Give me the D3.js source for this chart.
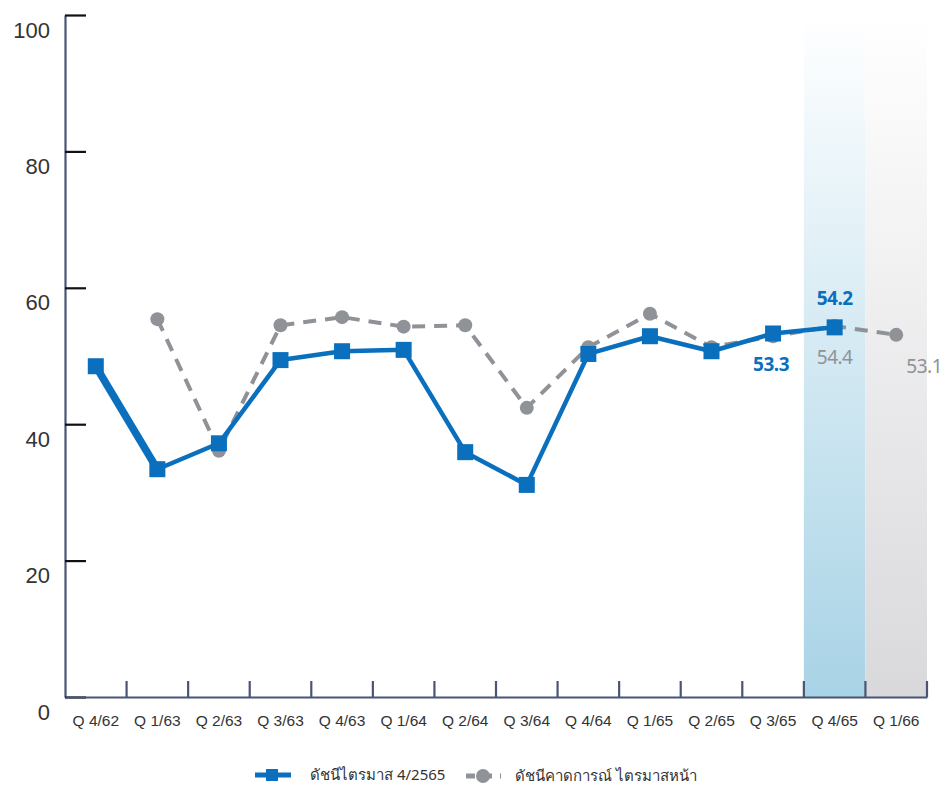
<!DOCTYPE html>
<html>
<head>
<meta charset="utf-8">
<script src="https://cdn.jsdelivr.net/npm/d3@7"></script>
<style>
  body { margin: 0; background: #fff; }
  svg { display: block; font-family: "Noto Sans", "Open Sans", sans-serif; }
</style>
</head>
<body>
<svg id="chart" width="943" height="788"></svg>
<script>
const categories = ["Q 4/62","Q 1/63","Q 2/63","Q 3/63","Q 4/63","Q 1/64","Q 2/64","Q 3/64","Q 4/64","Q 1/65","Q 2/65","Q 3/65","Q 4/65","Q 1/66"];
const actualValues = [48.5, 33.4, 37.2, 49.4, 50.7, 50.9, 35.9, 31.1, 50.3, 52.9, 50.7, 53.3, 54.2, null];
const expectedValues = [null, 55.4, 36.1, 54.5, 55.7, 54.3, 54.5, 42.4, 51.3, 56.2, 51.3, 52.9, 54.4, 53.1];
const yTicks = [0, 20, 40, 60, 80, 100];
const seriesNames = ["ดัชนีไตรมาส 4/2565", "ดัชนีคาดการณ์ ไตรมาสหน้า"];
const labelAt = [
  {series: 0, cat: "Q 3/65", text: "53.3", pos: "below"},
  {series: 0, cat: "Q 4/65", text: "54.2", pos: "above"},
  {series: 1, cat: "Q 4/65", text: "54.4", pos: "below"},
  {series: 1, cat: "Q 1/66", text: "53.1", pos: "belowRight"}
];

(function () {
const blue = "#0a6fbd", gray = "#8f9297", axisCol = "#4a5474";
const svg = d3.select("#chart");
const mLeft = 65, mRight = 927, mTop = 15, mBottom = 697;

const x = d3.scaleBand().domain(categories).range([mLeft, mRight]);
const y = d3.scaleLinear().domain([0, 100]).range([mBottom, mTop]);

const defs = svg.append("defs");
const gb = defs.append("linearGradient").attr("id", "gBlue").attr("x1", 0).attr("y1", 0).attr("x2", 0).attr("y2", 1);
gb.append("stop").attr("offset", "0%").attr("stop-color", "#ffffff");
gb.append("stop").attr("offset", "100%").attr("stop-color", "#a8d3e6");
const gg = defs.append("linearGradient").attr("id", "gGray").attr("x1", 0).attr("y1", 0).attr("x2", 0).attr("y2", 1);
gg.append("stop").attr("offset", "0%").attr("stop-color", "#ffffff");
gg.append("stop").attr("offset", "100%").attr("stop-color", "#d9d9dc");

svg.append("rect").attr("x", x("Q 4/65")).attr("y", y(100)).attr("width", x.bandwidth()).attr("height", y(0) - y(100)).attr("fill", "url(#gBlue)");
svg.append("rect").attr("x", x("Q 1/66")).attr("y", y(100)).attr("width", x.bandwidth()).attr("height", y(0) - y(100)).attr("fill", "url(#gGray)");

// Y axis
const yAxis = svg.append("g").attr("transform", `translate(${mLeft},0)`)
  .call(d3.axisLeft(y).tickValues(yTicks).tickSize(-21).tickSizeOuter(0));
yAxis.select(".domain").attr("stroke", axisCol).attr("stroke-width", 2.2);
yAxis.selectAll(".tick line").attr("stroke", "#111").attr("stroke-width", 2.2);
yAxis.selectAll(".tick text").attr("x", -15).attr("dy", "1.0em").attr("font-size", 22).attr("fill", "#333").attr("text-anchor", "end");

// X axis
const xAxis = svg.append("g").attr("transform", `translate(0,${mBottom})`)
  .call(d3.axisBottom(x).tickSize(0).tickPadding(18));
xAxis.select(".domain").attr("stroke", axisCol).attr("stroke-width", 2.2);
xAxis.selectAll(".tick text").attr("font-size", 15.5).attr("fill", "#333");
xAxis.selectAll(".bt").data(categories).enter().append("line")
  .attr("x1", d => x(d) + x.bandwidth()).attr("x2", d => x(d) + x.bandwidth())
  .attr("y1", 0).attr("y2", -16).attr("stroke", axisCol).attr("stroke-width", 2.2);

const cx = d => x(d) + x.bandwidth() / 2;

// expected (gray dashed)
const expData = categories.map((c, i) => ({c, v: expectedValues[i]})).filter(d => d.v != null);
svg.append("path").datum(expData)
  .attr("d", d3.line().x(d => cx(d.c)).y(d => y(d.v)))
  .attr("fill", "none").attr("stroke", gray).attr("stroke-width", 4).attr("stroke-dasharray", "13,9");
svg.selectAll(".expPt").data(expData).enter().append("circle")
  .attr("cx", d => cx(d.c)).attr("cy", d => y(d.v)).attr("r", 7).attr("fill", gray);

// actual (blue)
const actData = categories.map((c, i) => ({c, v: actualValues[i]})).filter(d => d.v != null);
svg.append("path").datum(actData)
  .attr("d", d3.line().x(d => cx(d.c)).y(d => y(d.v)))
  .attr("fill", "none").attr("stroke", blue).attr("stroke-width", 4.5).attr("stroke-linejoin", "round");
// first segment drawn thicker as in the reference
svg.append("path").datum(actData.slice(0, 2))
  .attr("d", d3.line().x(d => cx(d.c)).y(d => y(d.v)))
  .attr("fill", "none").attr("stroke", blue).attr("stroke-width", 7.5);
svg.selectAll(".actPt").data(actData).enter().append("rect")
  .attr("x", d => cx(d.c) - 8).attr("y", d => y(d.v) - 8).attr("width", 16).attr("height", 16).attr("fill", blue);

// value labels
labelAt.forEach(l => {
  const vals = l.series === 0 ? actualValues : expectedValues;
  const v = vals[categories.indexOf(l.cat)];
  let px = cx(l.cat), py = y(v);
  let dy = l.pos === "above" ? -22 : 38;
  if (l.pos === "belowRight") { px += 28; }
  if (l.series === 0 && l.pos === "below") { px -= 2; }
  svg.append("text").attr("x", px).attr("y", py + dy).attr("text-anchor", "middle")
    .attr("font-size", 19).attr("font-weight", l.series === 0 ? "bold" : "normal")
    .attr("letter-spacing", "-0.5")
    .attr("fill", l.series === 0 ? blue : gray).text(l.text);
});

// legend
const lg = svg.append("g");
lg.append("line").attr("x1", 255).attr("x2", 291).attr("y1", 775).attr("y2", 775).attr("stroke", blue).attr("stroke-width", 5);
lg.append("rect").attr("x", 266).attr("y", 769).attr("width", 12).attr("height", 12).attr("fill", blue);
lg.append("text").attr("x", 310).attr("y", 780).attr("font-size", 15).attr("fill", "#333").text(seriesNames[0]);
lg.append("line").attr("x1", 466).attr("x2", 501).attr("y1", 776).attr("y2", 776).attr("stroke", gray).attr("stroke-width", 5).attr("stroke-dasharray", "9,8");
lg.append("circle").attr("cx", 483).attr("cy", 776).attr("r", 7).attr("fill", gray);
lg.append("text").attr("x", 515).attr("y", 781).attr("font-size", 15).attr("fill", "#333").text(seriesNames[1]);
})();
</script>
</body>
</html>
